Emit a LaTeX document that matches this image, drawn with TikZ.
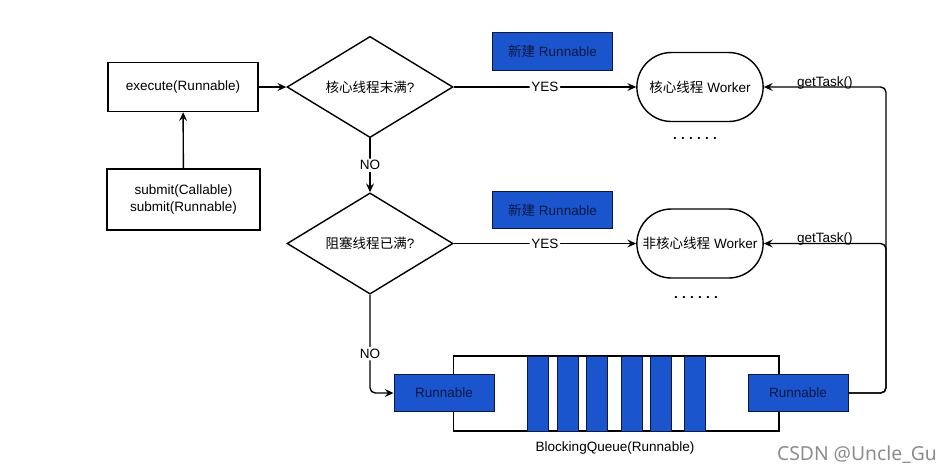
\documentclass[tikz,border=0pt]{standalone}
\usepackage{fontspec}
\setmainfont{Liberation Sans}
\newfontfamily\cjk{Noto Sans CJK SC}
\newfontfamily\marksans{Noto Sans}
\usepackage{tikz}
\usetikzlibrary{positioning,shapes.geometric,shapes.misc,arrows.meta}
\definecolor{qblue}{RGB}{27,85,205}
\definecolor{qnavy}{RGB}{10,24,66}
\definecolor{markgray}{RGB}{140,140,140}
\newcommand{\zh}[1]{{\cjk #1}}

\begin{document}
\begin{tikzpicture}[x=0.02cm,y=-0.02cm,
    >={Stealth[length=5pt,width=4.5pt,inset=1.8pt]},
    font=\fontsize{7.7}{9.5}\selectfont,
    box/.style={draw,line width=0.8pt,minimum width=3cm,minimum height=0.98cm,align=center},
    test/.style={diamond,draw,line width=0.8pt,minimum width=3.32cm,minimum height=1.74cm,inner sep=0pt},
    worker/.style={rounded rectangle,draw,line width=0.8pt,minimum width=2.76cm,minimum height=1.38cm},
    task/.style={draw=qnavy,fill=qblue,text=qnavy,line width=0.5pt,minimum height=0.75cm},
    bar/.style={draw=qnavy,fill=qblue,line width=0.5pt,minimum width=0.42cm,minimum height=1.5cm,inner sep=0pt},
    onlink/.style={fill=white,inner sep=1pt},
    link/.style={->,line width=0.8pt,rounded corners=3pt}]
    \useasboundingbox (0,0) rectangle (950,474);
    %%%%% THE ENTRY
    \node[box] (EXEC) at (183,87) {execute(Runnable)};
    \node[box,minimum width=3.06cm,minimum height=1.22cm] (SUBMIT) at (183.5,199.5)
      {submit(Callable)\\submit(Runnable)};
    \draw[link] (SUBMIT) -- (EXEC);
    %%%%% THE TESTS
    \node[test] (CORETEST) at (370,87) {\zh{核心线程末满}?};
    \node[test] (QUEUETEST) at (370,243.5) {\zh{阻塞线程已满}?};
    \draw[link] (EXEC) -- (CORETEST);
    \draw[link] (CORETEST) -- node[onlink] {NO} (QUEUETEST);
    %%%%% THE WORKERS
    \node[worker] (CORE) at (700,87) {\zh{核心线程} Worker};
    \node[worker] (NONCORE) at (700,243.5) {\zh{非核心线程} Worker};
    \node (CORENEW) [task,minimum width=2.4cm] at (552.5,51.5) {\zh{新建} Runnable};
    \node (NONCORENEW) [task,minimum width=2.4cm] at (552.5,210) {\zh{新建} Runnable};
    \node (COREDOTS) at (695,138) {\textbf{.\hspace{2.4pt}.\hspace{2.4pt}.\hspace{2.4pt}.\hspace{2.4pt}.\hspace{2.4pt}.}};
    \node (NONCOREDOTS) at (696,297) {\textbf{.\hspace{2.4pt}.\hspace{2.4pt}.\hspace{2.4pt}.\hspace{2.4pt}.\hspace{2.4pt}.}};
    \draw[link] (CORETEST) -- node[onlink] {YES} (CORE);
    \draw[link] (QUEUETEST) -- node[onlink] {YES} (NONCORE);
    %%%%% THE QUEUE
    \node[draw,line width=0.6pt,minimum width=6.52cm,minimum height=1.5cm] (QUEUE) at (616,393.5) {};
    \foreach \x [count=\i] in {537.5,567.5,597,631.5,660.5,695}
      \node[bar] (BAR-\i) at (\x,393.5) {};
    \node[task,minimum width=2cm] (HEAD) at (444,393) {Runnable};
    \node[task,minimum width=2cm] (TAIL) at (798,393) {Runnable};
    \node (QLABEL) at (615,448) {BlockingQueue(Runnable)};
    \coordinate (RIGHT) at (886,0);
    %%%%% LINKS TO AND FROM THE QUEUE
    \draw[link] (QUEUETEST.south) |- node[onlink,pos=0.3] {NO} (HEAD.west);
    \draw[link] (TAIL.east) -| (RIGHT |- CORE.east) -- node[above,inner sep=0pt,yshift=-1.5pt] {getTask()} (CORE.east);
    \draw[link] (TAIL.east) -| (RIGHT |- NONCORE.east) -- node[above,inner sep=0pt,yshift=-1.5pt] {getTask()} (NONCORE.east);
    \node[text=markgray,font=\marksans\fontsize{11}{13}\selectfont] (MARK) at (857,455) {CSDN @Uncle\_Gu};
\end{tikzpicture}
\end{document}
